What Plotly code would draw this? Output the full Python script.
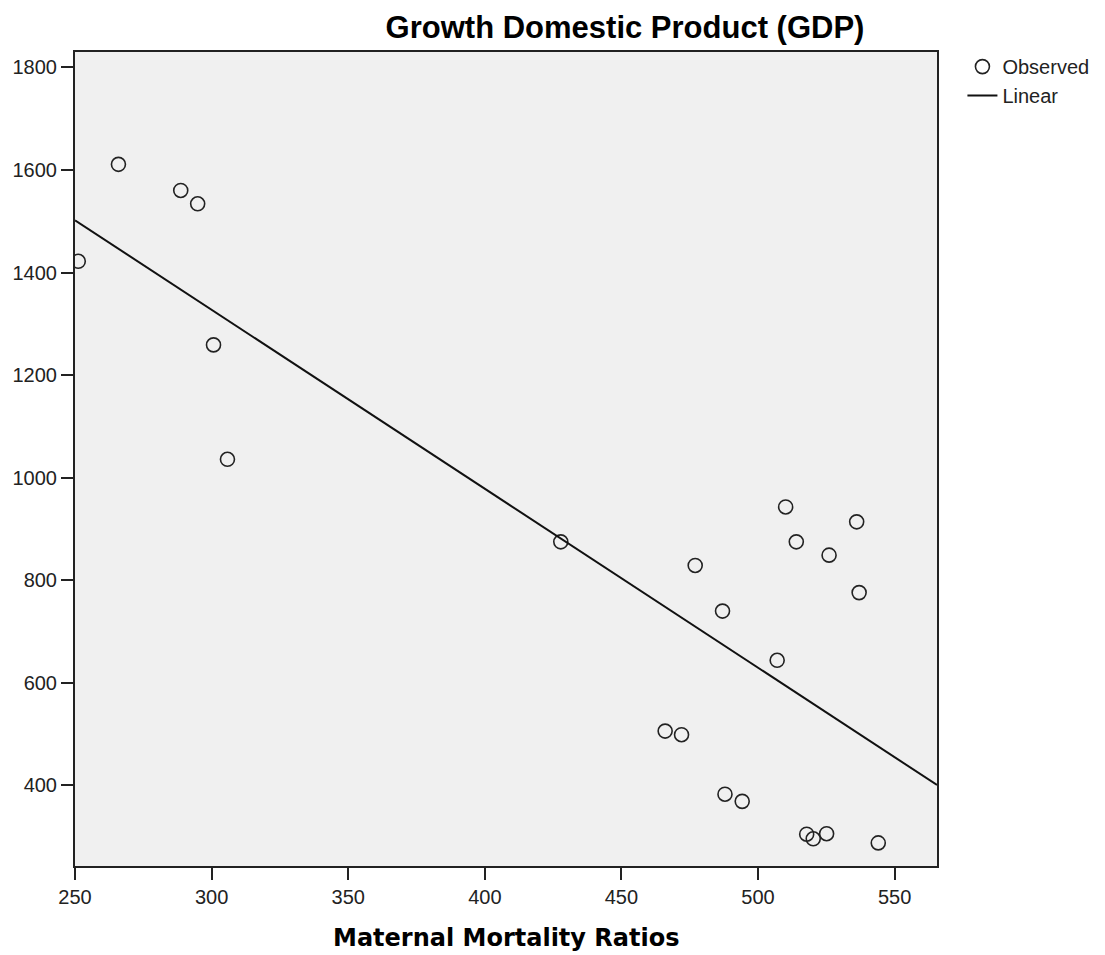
import numpy as np
import plotly.graph_objects as go

# Data
mmr = [251.2, 265.9, 288.7, 294.9, 300.7, 305.8, 427.8, 466.0, 472.0, 477.0,
       487.0, 487.9, 494.2, 507.0, 510.1, 514.0, 517.8, 520.2, 525.1, 526.0,
       536.1, 537.0, 544.0]
gdp = [1422, 1611, 1560, 1534, 1259, 1036, 875, 506, 499, 829,
       740, 383, 369, 644, 943, 875, 305, 296, 306, 849,
       914, 776, 288]

x_range = [250, 565.5]
y_range = [243, 1830]
x_ticks = [250, 300, 350, 400, 450, 500, 550]
y_ticks = [400, 600, 800, 1000, 1200, 1400, 1600, 1800]

title_text = "Growth Domestic Product (GDP)"
x_title = "Maternal Mortality Ratios"

# Linear fit (OLS) from the observed data
slope, intercept = np.polyfit(mmr, gdp, 1)
fit_x = np.array(x_range)
fit_y = intercept + slope * fit_x

W, H = 1105, 955
M_L, M_R, M_T, M_B = 75, 168, 52, 89
plot_h = H - M_T - M_B

fig = go.Figure()
fig.add_trace(go.Scatter(
    x=mmr, y=gdp, mode="markers", name="Observed",
    marker=dict(symbol="circle-open", size=14, color="#222222",
                line=dict(width=1.6, color="#222222")),
    cliponaxis=True,
))
fig.add_trace(go.Scatter(
    x=fit_x, y=fit_y, mode="lines", name="Linear",
    line=dict(color="#111111", width=2),
))

fig.update_layout(
    width=W, height=H,
    margin=dict(l=M_L, r=M_R, t=M_T, b=M_B, autoexpand=False),
    paper_bgcolor="white",
    plot_bgcolor="#F0F0F0",
    font=dict(family="Liberation Sans, Arial, sans-serif", color="#222222"),
    title=dict(text="<b>" + title_text + "</b>", x=625 / W, xanchor="center",
               y=1 - 27 / H, yanchor="middle", yref="container",
               font=dict(size=31, color="black",
                         family="Liberation Sans, Arial, sans-serif"),
               ),
    showlegend=True,
    legend=dict(x=1.0295, xanchor="left", y=1.006, yanchor="top",
                bgcolor="rgba(0,0,0,0)",
                font=dict(size=20, color="#222222"),
                tracegroupgap=0, itemwidth=30),
    annotations=[dict(
        text="<b>" + x_title + "</b>", xref="paper", yref="paper",
        x=0.5, xanchor="center", y=-(938 - (H - M_B)) / plot_h, yanchor="middle",
        showarrow=False,
        font=dict(size=24, color="black", family="DejaVu Sans, Verdana, sans-serif"),
    )],
)

fig.update_xaxes(
    range=x_range, tickvals=x_ticks, ticks="outside", ticklen=12,
    tickwidth=2, tickcolor="#222222",
    showline=True, linecolor="#222222", linewidth=2, mirror=True,
    showgrid=False, zeroline=False, automargin=False,
    tickfont=dict(size=20, color="#222222"),
)
fig.update_yaxes(
    range=y_range, tickvals=y_ticks, ticks="outside", ticklen=12,
    tickwidth=2, tickcolor="#222222",
    showline=True, linecolor="#222222", linewidth=2, mirror=True,
    showgrid=False, zeroline=False, automargin=False,
    tickfont=dict(size=20, color="#222222"),
)

fig.write_html(
    "out.html",
    config={"displayModeBar": False},
    post_script="document.body.style.margin='0';document.body.style.padding='0';"
                "document.body.style.overflow='hidden';",
)
